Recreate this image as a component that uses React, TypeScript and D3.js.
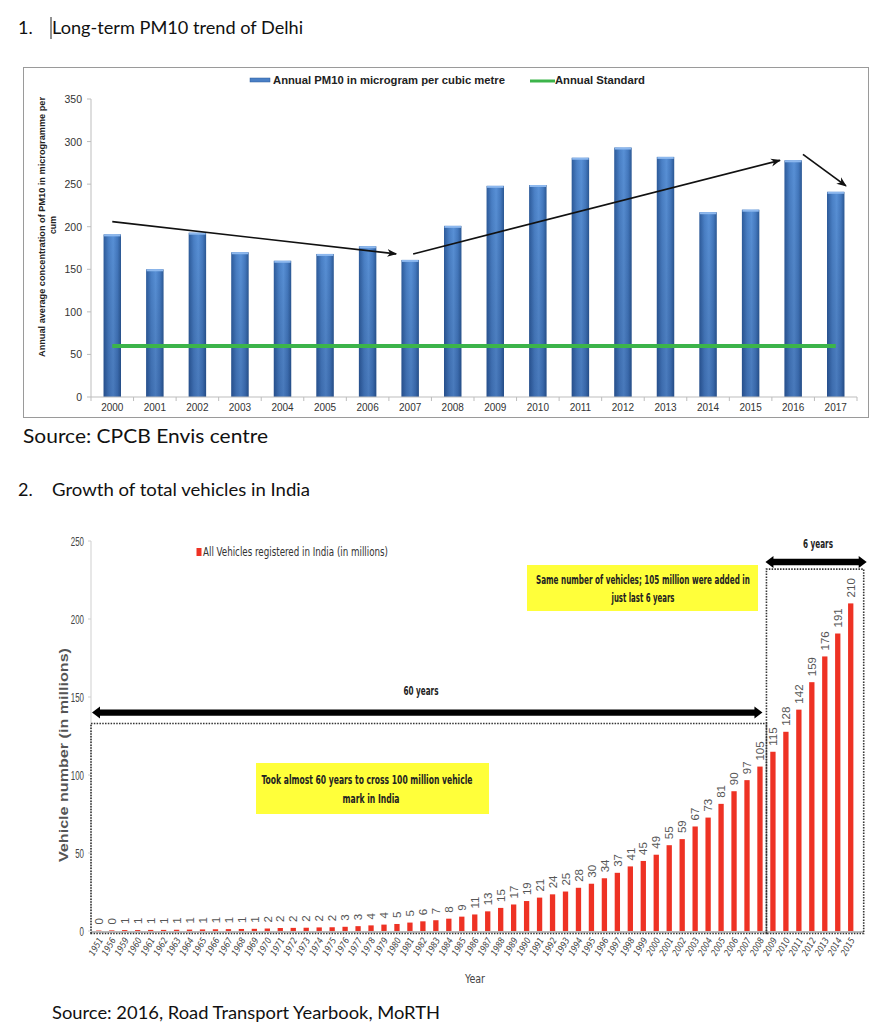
import React from 'react';
import * as d3 from 'd3';

// ---------------- Chart 1 data: Delhi PM10 ----------------
const pmYears = ['2000', '2001', '2002', '2003', '2004', '2005', '2006', '2007', '2008', '2009', '2010', '2011', '2012', '2013', '2014', '2015', '2016', '2017'];
const pmValues = [191, 150, 193, 170, 160, 168, 177, 161, 201, 248, 249, 281, 293, 282, 217, 220, 278, 241];
const pmStandard = 60;
const pmYTicks = [0, 50, 100, 150, 200, 250, 300, 350];
const pmSeriesName = 'Annual PM10 in microgram per cubic metre';
const pmStandardName = 'Annual Standard';
// trend arrows: [category, offset in bands, value]
const pmArrowFrom = [['2000', 0, 206], ['2007', 0.07, 168], ['2016', 0.23, 285]];
const pmArrowTo = [['2007', -0.33, 168], ['2016', -0.31, 278], ['2017', 0.24, 248]];

// ---------------- Chart 2 data: vehicles in India ----------------
const vehYears = ['1951', '1956', '1959', '1960', '1961', '1962', '1963', '1964', '1965', '1966', '1967', '1968', '1969', '1970', '1971', '1972', '1973', '1974', '1975', '1976', '1977', '1978', '1979', '1980', '1981', '1982', '1983', '1984', '1985', '1986', '1987', '1988', '1989', '1990', '1991', '1992', '1993', '1994', '1995', '1996', '1997', '1998', '1999', '2000', '2001', '2002', '2003', '2004', '2005', '2006', '2007', '2008', '2009', '2010', '2011', '2012', '2013', '2014', '2015'];
const vehValues = [0.3, 0.4, 0.6, 0.6, 0.7, 0.7, 0.8, 0.9, 1.0, 1.1, 1.2, 1.3, 1.4, 1.6, 1.9, 2.0, 2.1, 2.3, 2.4, 2.7, 3.1, 3.6, 4.1, 4.5, 5.4, 6.2, 6.9, 7.9, 9.2, 10.6, 12.6, 14.8, 17.0, 19.2, 21.4, 23.5, 25.3, 27.7, 30.3, 33.8, 37.3, 41.4, 44.9, 48.9, 55.0, 58.9, 67.0, 72.7, 81.5, 89.6, 96.7, 105.4, 114.9, 127.7, 141.9, 159.5, 176.0, 190.7, 210.0];
const vehLabels = ['0', '0', '1', '1', '1', '1', '1', '1', '1', '1', '1', '1', '1', '2', '2', '2', '2', '2', '2', '3', '3', '4', '4', '5', '5', '6', '7', '8', '9', '11', '13', '15', '17', '19', '21', '24', '25', '28', '30', '34', '37', '41', '45', '49', '55', '59', '67', '73', '81', '90', '97', '105', '115', '128', '142', '159', '176', '191', '210'];
const vehYTicks = [0, 50, 100, 150, 200, 250];
const vehSeriesName = 'All Vehicles registered in India (in millions)';
const splitYear = '2009';
const box60Top = 133;
const box6Top = 232;
const arrow60Value = 140;
const arrow6Value = 236.5;

const CAL = "Lato, 'Open Sans', 'Liberation Sans', sans-serif";
const ARIAL = "'Liberation Sans', Arial, sans-serif";
const NARROW = "'Liberation Sans Narrow', 'Arial Narrow', 'DejaVu Sans Condensed', sans-serif";

function blockArrow(xa: number, xb: number, yc: number, t: number, hh: number, hl: number) {
  const p = d3.path();
  p.moveTo(xa, yc);
  p.lineTo(xa + hl, yc - hh);
  p.lineTo(xa + hl, yc - t);
  p.lineTo(xb - hl, yc - t);
  p.lineTo(xb - hl, yc - hh);
  p.lineTo(xb, yc);
  p.lineTo(xb - hl, yc + hh);
  p.lineTo(xb - hl, yc + t);
  p.lineTo(xa + hl, yc + t);
  p.lineTo(xa + hl, yc + hh);
  p.closePath();
  return p.toString();
}

export default function App() {
  const W = 893;
  const H = 1030;

  // ---- chart 1 scales
  const x1 = d3.scaleBand<string>().domain(pmYears).range([91, 857]).paddingInner(0.59).paddingOuter(0.295);
  const y1 = d3.scaleLinear().domain([0, 350]).range([397, 99]);
  const s1 = x1.step();
  const c1 = (k: string) => (x1(k) as number) + x1.bandwidth() / 2;
  const stdLine = d3.line<string>().x((d) => c1(d)).y(() => y1(pmStandard));

  // ---- chart 2 scales
  const x2 = d3.scaleBand<string>().domain(vehYears).range([92.3, 857.2]).paddingInner(0.59).paddingOuter(0.295);
  const y2 = d3.scaleLinear().domain([0, 250]).range([931, 541]);
  const s2 = x2.step();
  const c2 = (k: string) => (x2(k) as number) + x2.bandwidth() / 2;
  const splitX = c2(splitYear) - s2 / 2;
  const x2Start = x2.range()[0] - 1.3;
  const x2End = x2.range()[1] + 6.5;
  const baseY = y2(0) + 2.5;

  return (
    <svg width={W} height={H} viewBox={`0 0 ${W} ${H}`} style={{ position: 'absolute', left: 0, top: 0, background: '#fff' }} xmlns="http://www.w3.org/2000/svg">
      <defs>
        <linearGradient id="pmBar" x1="0" x2="1" y1="0" y2="0">
          <stop offset="0%" stopColor="#2d5b9b" />
          <stop offset="30%" stopColor="#4a80c6" />
          <stop offset="55%" stopColor="#5890d6" />
          <stop offset="80%" stopColor="#4479bf" />
          <stop offset="100%" stopColor="#2b5894" />
        </linearGradient>
        <linearGradient id="pmShade" x1="0" x2="0" y1="0" y2="1">
          <stop offset="0%" stopColor="#000" stopOpacity="0" />
          <stop offset="100%" stopColor="#001040" stopOpacity="0.18" />
        </linearGradient>
        <marker id="ah" viewBox="0 0 10 10" refX="9" refY="5" markerWidth="10" markerHeight="10" orient="auto" markerUnits="userSpaceOnUse">
          <path d="M0,1 L10,5 L0,9 L3,5 Z" fill="#111" />
        </marker>
      </defs>
      <rect x={0} y={0} width={W} height={H} fill="#fff" />

      {/* ================= Heading 1 ================= */}
      <text x={18} y={34} fontFamily={CAL} fontSize={18} fill="#111">1.</text>
      <line x1={51} x2={51} y1={17} y2={39} stroke="#222" strokeWidth={1} />
      <text x={52} y={34} fontFamily={CAL} fontSize={18} fill="#111" textLength={251} lengthAdjust="spacingAndGlyphs">Long-term PM10 trend of Delhi</text>

      {/* chart frame */}
      <rect x={23.5} y={67.5} width={845} height={350} fill="#fff" stroke="#9a9a9a" strokeWidth={1} />

      {/* legend */}
      <rect x={250} y={78} width={20} height={4} fill="#4a80c6" stroke="#2d5b9b" strokeWidth={0.5} />
      <text x={273} y={84} fontFamily={ARIAL} fontSize={10.5} fontWeight="bold" fill="#222" textLength={232} lengthAdjust="spacingAndGlyphs">{pmSeriesName}</text>
      <line x1={530} x2={555} y1={81} y2={81} stroke="#3cb44a" strokeWidth={3} />
      <text x={555} y={84} fontFamily={ARIAL} fontSize={10.5} fontWeight="bold" fill="#222" textLength={90} lengthAdjust="spacingAndGlyphs">{pmStandardName}</text>

      {/* y axis */}
      <line x1={91} x2={91} y1={y1(350)} y2={y1(0)} stroke="#bdbdbd" />
      {pmYTicks.map((t) => (
        <g key={t}>
          <line x1={87} x2={91} y1={y1(t)} y2={y1(t)} stroke="#bdbdbd" />
          <text x={82} y={y1(t) + 4} textAnchor="end" fontFamily={ARIAL} fontSize={10.5} fill="#333">{t}</text>
        </g>
      ))}
      <g transform={`translate(45, 227) rotate(-90)`}>
        <text x={0} y={0} textAnchor="middle" fontFamily={ARIAL} fontSize={8.8} fontWeight="bold" fill="#222" textLength={260} lengthAdjust="spacingAndGlyphs">Annual average concentration of PM10 in microgramme per</text>
      </g>
      <g transform={`translate(55.5, 225) rotate(-90)`}>
        <text x={0} y={0} textAnchor="middle" fontFamily={ARIAL} fontSize={8.8} fontWeight="bold" fill="#222">cum</text>
      </g>

      {/* bars */}
      {pmYears.map((k, i) => {
        const x = x1(k) as number;
        const y = y1(pmValues[i]);
        const h = y1(0) - y;
        return (
          <g key={k}>
            <rect x={x} y={y} width={x1.bandwidth()} height={h} fill="url(#pmBar)" />
            <rect x={x} y={y} width={x1.bandwidth()} height={h} fill="url(#pmShade)" />
            <rect x={x + 0.5} y={y} width={x1.bandwidth() - 1} height={2} fill="#8db8ee" />
          </g>
        );
      })}

      {/* x axis */}
      <line x1={x1.range()[0]} x2={x1.range()[1]} y1={y1(0)} y2={y1(0)} stroke="#bdbdbd" />
      {pmYears.concat(['end']).map((k, i) => {
        const xx = x1.range()[0] + i * s1;
        return <line key={'t' + k} x1={xx} x2={xx} y1={y1(0)} y2={y1(0) + 4} stroke="#bdbdbd" />;
      })}
      {pmYears.map((k) => (
        <text key={'l' + k} x={c1(k)} y={411} textAnchor="middle" fontFamily={ARIAL} fontSize={10} fill="#333">{k}</text>
      ))}

      {/* standard line */}
      <path d={stdLine([pmYears[0], pmYears[pmYears.length - 1]]) || ''} stroke="#3cb44a" strokeWidth={4} fill="none" />

      {/* trend arrows */}
      {pmArrowFrom.map((f, i) => {
        const t = pmArrowTo[i];
        return (
          <line key={'a' + i}
            x1={c1(f[0] as string) + (f[1] as number) * s1} y1={y1(f[2] as number)}
            x2={c1(t[0] as string) + (t[1] as number) * s1} y2={y1(t[2] as number)}
            stroke="#111" strokeWidth={1.7} markerEnd="url(#ah)" />
        );
      })}

      <text x={23} y={443} fontFamily={CAL} fontSize={19} fill="#111" textLength={245} lengthAdjust="spacingAndGlyphs">Source: CPCB Envis centre</text>

      {/* ================= Heading 2 ================= */}
      <text x={18} y={496} fontFamily={CAL} fontSize={18} fill="#111">2.</text>
      <text x={52} y={496} fontFamily={CAL} fontSize={18} fill="#111" textLength={258} lengthAdjust="spacingAndGlyphs">Growth of total vehicles in India</text>

      {/* y axis */}
      <line x1={91} x2={91} y1={y2(250)} y2={y2(0)} stroke="#cfcfcf" />
      {vehYTicks.map((t) => (
        <g key={'v' + t}>
          <line x1={88} x2={91} y1={y2(t)} y2={y2(t)} stroke="#cfcfcf" />
          <text x={84} y={y2(t) + 4.5} textAnchor="end" fontFamily={ARIAL} fontSize={12.5} fill="#444" textLength={String(t).length * 4.4} lengthAdjust="spacingAndGlyphs">{t}</text>
        </g>
      ))}
      <g transform={`translate(67.5, 755) rotate(-90)`}>
        <text x={0} y={0} textAnchor="middle" fontFamily={ARIAL} fontSize={12.5} fontWeight="bold" fill="#555" textLength={214} lengthAdjust="spacingAndGlyphs">Vehicle number  (in millions)</text>
      </g>

      {/* legend */}
      <rect x={196.5} y={548} width={5} height={8} fill="#ee3224" />
      <text x={203} y={556} fontFamily={NARROW} fontSize={12} fill="#333" textLength={185} lengthAdjust="spacingAndGlyphs">{vehSeriesName}</text>

      {/* bars */}
      {vehYears.map((k, i) => (
        <rect key={'b' + k} x={x2(k)} y={y2(vehValues[i])} width={x2.bandwidth()} height={y2(0) - y2(vehValues[i])} fill="#ee3224" />
      ))}

      {/* value labels */}
      {vehYears.map((k, i) => (
        <g key={'vl' + k} transform={`translate(${c2(k) + 4.2}, ${y2(vehValues[i]) - 6}) rotate(-90)`}>
          <text x={0} y={0} fontFamily={ARIAL} fontSize={11.5} fill="#555">{vehLabels[i]}</text>
        </g>
      ))}

      {/* axis baseline */}
      <line x1={x2Start} x2={x2End} y1={y2(0) + 1} y2={y2(0) + 1} stroke="#bbb" strokeWidth={2} />

      {/* dotted boxes */}
      <path d={`M${x2Start},${baseY} L${x2Start},${y2(box60Top)} L${splitX},${y2(box60Top)} L${splitX},${baseY} Z`} fill="none" stroke="#333" strokeWidth={1.6} strokeDasharray="1.5,1.3" />
      <path d={`M${splitX},${baseY} L${splitX},${y2(box6Top)} L${x2End},${y2(box6Top)} L${x2End},${baseY} Z`} fill="none" stroke="#333" strokeWidth={1.6} strokeDasharray="1.5,1.3" />

      {/* span arrows */}
      <path d={blockArrow(x2Start + 1, splitX - 4, y2(arrow60Value), 3.2, 6, 8)} fill="#000" />
      <text x={421} y={695} textAnchor="middle" fontFamily={NARROW} fontWeight="bold" fontSize={13} fill="#222" textLength={35} lengthAdjust="spacingAndGlyphs">60 years</text>
      <path d={blockArrow(splitX - 1, x2End + 3, y2(arrow6Value), 3.2, 6, 8)} fill="#000" />
      <text x={818} y={548} textAnchor="middle" fontFamily={NARROW} fontWeight="bold" fontSize={13} fill="#222" textLength={30} lengthAdjust="spacingAndGlyphs">6 years</text>

      {/* yellow notes */}
      <rect x={527} y={565} width={231} height={46} fill="#ffff3a" />
      <text x={643} y={584} textAnchor="middle" fontFamily={NARROW} fontWeight="bold" fontSize={12.5} fill="#222" textLength={214} lengthAdjust="spacingAndGlyphs">Same number  of vehicles; 105 million were added in</text>
      <text x={643} y={602} textAnchor="middle" fontFamily={NARROW} fontWeight="bold" fontSize={12.5} fill="#222" textLength={63} lengthAdjust="spacingAndGlyphs">just last 6 years</text>

      <rect x={256} y={763} width={233} height={51} fill="#ffff3a" />
      <text x={367} y={784} textAnchor="middle" fontFamily={NARROW} fontWeight="bold" fontSize={12.5} fill="#222" textLength={211} lengthAdjust="spacingAndGlyphs">Took almost 60 years to cross 100 million vehicle</text>
      <text x={371} y={803} textAnchor="middle" fontFamily={NARROW} fontWeight="bold" fontSize={12.5} fill="#222" textLength={57} lengthAdjust="spacingAndGlyphs">mark in  India</text>

      {/* x tick labels */}
      {vehYears.map((k) => (
        <g key={'xl' + k} transform={`translate(${c2(k) + 4.5}, 940) rotate(-60)`}>
          <text x={0} y={0} textAnchor="end" fontFamily={NARROW} fontStyle="italic" fontSize={9} fill="#444" textLength={19} lengthAdjust="spacingAndGlyphs">{k}</text>
        </g>
      ))}
      <text x={475} y={983} textAnchor="middle" fontFamily={NARROW} fontSize={11.5} fill="#444" textLength={20} lengthAdjust="spacingAndGlyphs">Year</text>

      <text x={52} y={1019} fontFamily={CAL} fontSize={18} fill="#111" textLength={388} lengthAdjust="spacingAndGlyphs">Source: 2016, Road Transport Yearbook, MoRTH</text>
    </svg>
  );
}
